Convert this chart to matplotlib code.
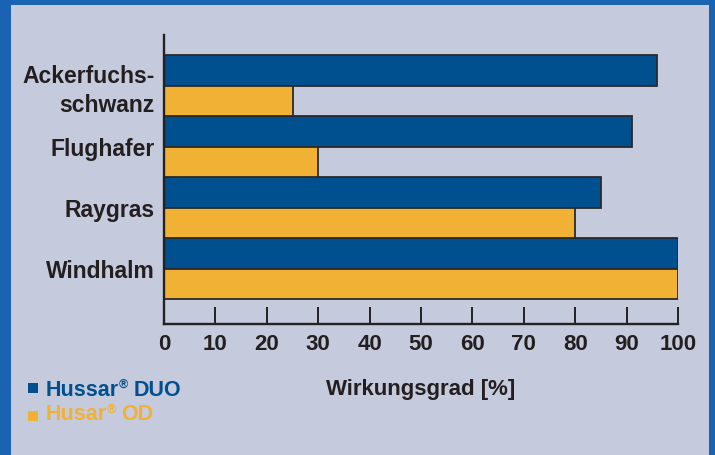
import numpy as np
import matplotlib
matplotlib.use("Agg")
import matplotlib.pyplot as plt
from matplotlib.patches import Rectangle

# Datos
categorias = ["Ackerfuchs-\nschwanz", "Flughafer", "Raygras", "Windhalm"]
hussar_duo = [96, 91, 85, 100]
husar_od = [25, 30, 80, 100]
xticks = [0, 10, 20, 30, 40, 50, 60, 70, 80, 90, 100]

azul = "#004F8E"
naranja = "#F0B134"
fondo = "#C5CADD"
borde = "#1A62B2"
texto = "#231F20"

plt.rcParams["font.family"] = ["Liberation Sans", "DejaVu Sans"]
plt.rcParams["font.weight"] = "bold"

fig = plt.figure(figsize=(7.15, 4.55), dpi=100)
fig.patch.set_facecolor(borde)

# panel claro
panel = Rectangle((11 / 715, 0), 698 / 715, 450 / 455, transform=fig.transFigure,
                  facecolor=fondo, edgecolor="none", zorder=0)
fig.add_artist(panel)

ax = fig.add_axes([164 / 715, 131 / 455, 514 / 715, 289 / 455])
ax.set_facecolor("none")

y = np.arange(len(categorias))
alto = 0.5
ax.barh(y - alto / 2, hussar_duo, height=alto, color=azul, edgecolor="#2A2A2A", linewidth=1.3)
ax.barh(y + alto / 2, husar_od, height=alto, color=naranja, edgecolor="#2A2A2A", linewidth=1.3)

ax.set_xlim(0, 100)
ax.set_ylim(3.91, -0.83)

ax.spines["top"].set_visible(False)
ax.spines["right"].set_visible(False)
for s in ["left", "bottom"]:
    ax.spines[s].set_linewidth(1.7)
    ax.spines[s].set_color("#222222")

ax.set_xticks(xticks)
ax.set_xticklabels([str(v) for v in xticks], fontsize=16, fontweight="bold", color=texto)
ax.tick_params(axis="x", direction="in", length=12, width=1.4, color="#222222", pad=7)

ax.set_yticks(y)
ax.set_yticklabels(categorias, fontsize=16.5, fontweight="bold", color=texto, linespacing=1.3)
ax.tick_params(axis="y", length=0, pad=7)

# Etiqueta del eje X
fig.text(421 / 715, 1 - 390 / 455, "Wirkungsgrad [%]", ha="center", va="center",
         fontsize=16, fontweight="bold", color=texto)

# Leyenda manual
fig.add_artist(Rectangle((28 / 715, 1 - 393 / 455), 10 / 715, 10 / 455,
                         transform=fig.transFigure, facecolor=azul, edgecolor="none"))
fig.add_artist(Rectangle((28 / 715, 1 - 421 / 455), 10 / 715, 10 / 455,
                         transform=fig.transFigure, facecolor=naranja, edgecolor="none"))

renderer = fig.canvas.get_renderer()
inv = fig.transFigure.inverted()


def texto_marca(x, yc, nombre, resto, color):
    # nombre + ® pequeño + resto
    t1 = fig.text(x, yc, nombre, ha="left", va="center", fontsize=15.5,
                  fontweight="bold", color=color)
    bb = t1.get_window_extent(renderer)
    x2 = inv.transform((bb.x1, 0))[0]
    t2 = fig.text(x2, yc + 5 / 455, "®", ha="left", va="center", fontsize=9,
                  fontweight="bold", color=color)
    bb2 = t2.get_window_extent(renderer)
    x3 = inv.transform((bb2.x1 + 5, 0))[0]
    fig.text(x3, yc, resto, ha="left", va="center", fontsize=15.5,
             fontweight="bold", color=color)


texto_marca(46 / 715, 1 - 390 / 455, "Hussar", "DUO", azul)
texto_marca(46 / 715, 1 - 415 / 455, "Husar", "OD", naranja)

fig.savefig("out.png", dpi=100, facecolor=fig.get_facecolor())
